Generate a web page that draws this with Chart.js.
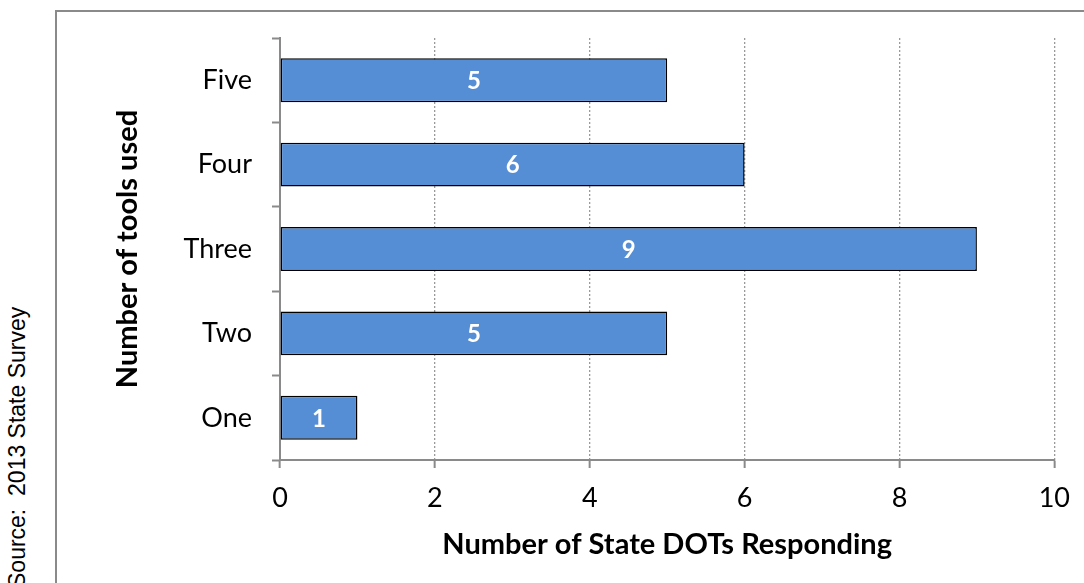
<!DOCTYPE html>
<html>
<head>
<meta charset="utf-8">
<script src="https://cdn.jsdelivr.net/npm/chart.js@4/dist/chart.umd.min.js"></script>
<style>
  html, body { margin: 0; padding: 0; background: #fff; overflow: hidden; }
  #wrap { position: relative; width: 1084px; height: 583px; }
  #frame {
    position: absolute; left: 55px; top: 10px; width: 2000px; height: 2000px;
    border: 2px solid #8a8a8a;
  }
  #source {
    position: absolute; left: 6px; top: 588px;
    transform: rotate(-90deg); transform-origin: 0 0;
    font-family: "Liberation Sans", Arial, sans-serif; font-size: 23px; color: #000;
    white-space: pre; line-height: 1;
  }
  canvas { position: absolute; left: 0; top: 0; }
</style>
</head>
<body>
<div id="wrap">
  <div id="frame"></div>
  <div id="source">Source:  2013 State Survey</div>
  <canvas id="chartTools" width="1084" height="583"></canvas>
</div>
<script>
// survey results: how many tools each state DOT uses
const categories = ["Five", "Four", "Three", "Two", "One"];
const responses = [5, 6, 9, 5, 1];
const xTicks = [0, 2, 4, 6, 8, 10];

const FONT = "Lato, Calibri, Carlito, sans-serif";
const GREY = "#8a8a8a";

// value labels centered inside each bar
const barLabels = {
    id: "barLabels",
    afterDatasetsDraw(chart) {
        const ctx = chart.ctx;
        const meta = chart.getDatasetMeta(0);
        ctx.save();
        ctx.fillStyle = "#fff";
        ctx.font = "bold 24px " + FONT;
        ctx.textAlign = "center";
        ctx.textBaseline = "middle";
        meta.data.forEach((bar, i) => {
            const cx = (bar.x + bar.base) / 2;
            ctx.fillText(String(responses[i]), cx, bar.y + 1);
        });
        ctx.restore();
    }
};

window.onload = () => {
    Chart.defaults.font.family = FONT;
    Chart.defaults.color = "#000";

    new Chart(document.getElementById("chartTools"), {
        type: "bar",
        data: {
            labels: categories,
            datasets: [{
                label: "Number of State DOTs Responding",
                data: responses,
                backgroundColor: "#558ed5",
                borderColor: "#000",
                borderWidth: 1.5,
                borderSkipped: false,
                categoryPercentage: 1,
                barPercentage: 0.52
            }]
        },
        options: {
            indexAxis: "y",
            responsive: false,
            animation: false,
            layout: { padding: { left: 110, top: 38, right: 28, bottom: 0 } },
            plugins: {
                legend: { display: false },
                tooltip: { enabled: false }
            },
            scales: {
                x: {
                    min: 0,
                    max: 10,
                    afterFit: (s) => { s.height = 123; },
                    afterBuildTicks: (s) => { s.ticks = xTicks.map(v => ({ value: v })); },
                    ticks: { font: { size: 27 }, padding: 14, color: "#000" },
                    grid: {
                        color: (c) => c.tick && c.tick.value === 0 ? "transparent" : "#9a9a9a",
                        lineWidth: 1.3,
                        tickColor: GREY,
                        tickLength: 8,
                        tickWidth: 2
                    },
                    border: { color: GREY, width: 2, dash: [2, 2] },
                    title: {
                        display: true,
                        text: "Number of State DOTs Responding",
                        font: { size: 29, weight: "bold" },
                        padding: { top: 0, bottom: 21 },
                        color: "#000"
                    }
                },
                y: {
                    afterFit: (s) => { s.width = 170; },
                    ticks: { font: { size: 27 }, padding: 20, color: "#000" },
                    grid: {
                        drawOnChartArea: false,
                        offset: true,
                        tickColor: GREY,
                        tickLength: 8,
                        tickWidth: 2
                    },
                    border: { color: GREY, width: 2 },
                    title: {
                        display: true,
                        text: "Number of tools used",
                        font: { size: 29, weight: "bold" },
                        padding: 0,
                        color: "#000"
                    }
                }
            }
        },
        plugins: [barLabels]
    });
};
</script>
</body>
</html>
